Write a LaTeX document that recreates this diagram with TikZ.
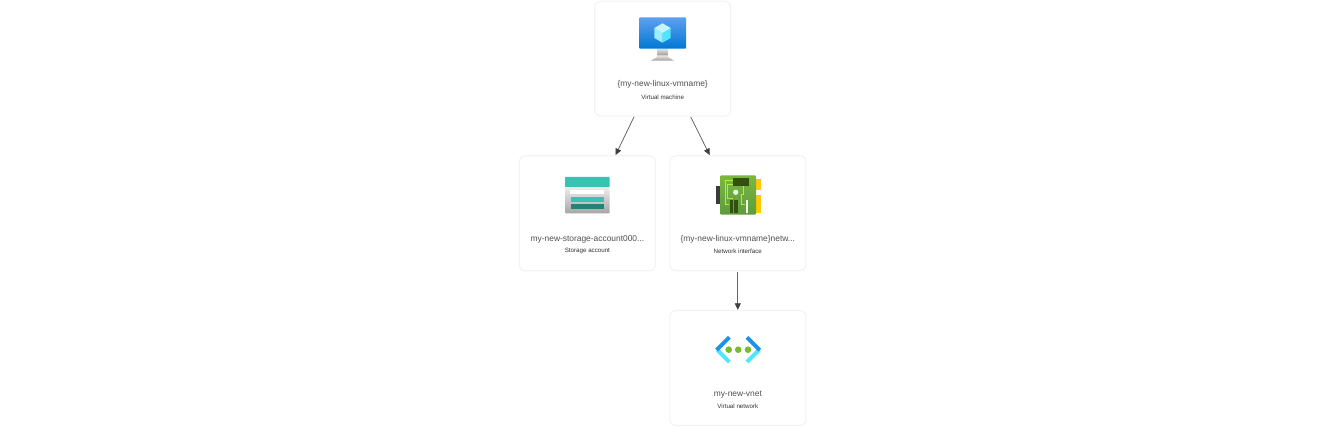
\documentclass[tikz,border=0pt]{standalone}
\usepackage{fontspec}
\setmainfont{Liberation Sans}
\usetikzlibrary{calc,arrows.meta}
\definecolor{cardline}{HTML}{F3F3F3}
\definecolor{nametext}{HTML}{505050}
\definecolor{subtext}{HTML}{333333}
\definecolor{edgeline}{HTML}{666666}
\definecolor{darkarrow}{HTML}{404040}
\tikzset{
  card/.style={draw=cardline,line width=1.1pt,rounded corners=6pt,fill=white,inner sep=0pt,minimum width=136pt,minimum height=115pt},
  nametxt/.style={font=\fontsize{8.4}{10}\selectfont,text=nametext,inner sep=0pt,anchor=center},
  subtxt/.style={font=\fontsize{6.2}{7}\selectfont,text=subtext,inner sep=0pt,anchor=center},
  link/.style={draw=edgeline,line width=0.8pt,-{Triangle[length=6.5pt,width=6pt,color=darkarrow]}}
}
\begin{document}
\begin{tikzpicture}[x=1pt,y=-1pt]
\useasboundingbox (0,0) rectangle (1326,427);
\node[card] (vm) at (662.7,58.7) {};
\node[card] (sa) at (587.4,213.3) {};
\node[card] (nic) at (737.8,213.3) {};
\node[card] (vnet) at (737.8,368) {};
\draw[link] ($(vm.south west)!0.29!(vm.south east)+(0,0.3)$) -- ($(sa.north west)!0.705!(sa.north east)+(0,-0.1)$);
\draw[link] ($(vm.south west)!0.705!(vm.south east)+(0,0.3)$) -- ($(nic.north west)!0.295!(nic.north east)+(0,-0.1)$);
\draw[link] ($(nic.south)+(0,1)$) -- ($(vnet.north)+(0,-0.1)$);
% VM icon
\shade[top color=black!10,bottom color=black!42] (657.7,48.7) rectangle (667.7,56);
\shade[top color=black!10,bottom color=black!38] (657.7,55.5) -- (667.7,55.5) .. controls (668,58) and (672,59) .. (674,60.7) -- (650.7,60.7) .. controls (653,59) and (657,58) .. (657.7,55.5) -- cycle;
\shade[top color={rgb,255:red,94;green,160;blue,239},bottom color={rgb,255:red,0;green,120;blue,212},rounded corners=0.8pt] (639.3,17.3) rectangle (686,48.7);
\fill[color={rgb,255:red,80;green,230;blue,255}] (662.5,33) -- (670.6,28) -- (670.6,38) -- (662.5,42.7) -- cycle;
\fill[color={rgb,255:red,155;green,238;blue,255}] (662.5,33) -- (654.4,28) -- (654.4,38) -- (662.5,42.7) -- cycle;
\fill[color={rgb,255:red,195;green,244;blue,255}] (662.5,23.3) -- (670.6,28) -- (662.5,33) -- (654.4,28) -- cycle;
\node[nametxt] (vmname) at (662.7,84.4) {\{my-new-linux-vmname\}};
\node[subtxt] (vmsub) at (662.7,97) {Virtual machine};
% Storage icon
\shade[top color=black!6,bottom color=black!35,rounded corners=0.8pt] (565,186) rectangle (609.5,213.3);
\fill[color={rgb,255:red,55;green,194;blue,177},rounded corners=0.5pt] (565,177) rectangle (609.5,187);
\fill[white] (570,190) rectangle (604,194.5);
\fill[color={rgb,255:red,55;green,194;blue,177}] (570.5,197) rectangle (604,202);
\fill[color={rgb,255:red,37;green,130;blue,119}] (570.5,204.5) rectangle (604,209.5);
\node[nametxt] (saname) at (587.4,239.4) {my-new-storage-account000...};
\node[subtxt] (sasub) at (587.4,251) {Storage account};
% NIC icon
\fill[color={rgb,255:red,59;green,59;blue,59}] (716,186) rectangle (720.5,204);
\fill[color={rgb,255:red,255;green,202;blue,0}] (755,179) rectangle (760.5,190);
\fill[color={rgb,255:red,255;green,202;blue,0}] (755,195) rectangle (760.5,213);
\shade[top color={rgb,255:red,122;green,184;blue,64},bottom color={rgb,255:red,94;green,155;blue,60},rounded corners=1pt] (720.3,175.3) rectangle (756,214.7);
\draw[color={rgb,255:red,180;green,236;blue,54},line width=0.7pt] (733,180) -- (725,180) -- (725,204) -- (729,204);
\draw[color={rgb,255:red,180;green,236;blue,54},line width=0.7pt] (733,184) -- (727.5,184) -- (727.5,198) -- (733,198);
\draw[color={rgb,255:red,180;green,236;blue,54},line width=0.7pt] (743,186) -- (743,194) -- (741,194) -- (741,204) -- (745,204);
\fill[color={rgb,255:red,50;green,80;blue,15}] (733,178) rectangle (749,186);
\fill[color={rgb,255:red,50;green,80;blue,15}] (730,200) rectangle (733.3,212.7);
\fill[color={rgb,255:red,50;green,80;blue,15}] (734.2,200) rectangle (737.7,212.7);
\fill[color=white!92!green] (745.7,200) rectangle (748.3,213);
\fill[color=white!92!green] (735.7,192.3) circle[radius=2.6];
\node[nametxt] (nicname) at (737.8,239.4) {\{my-new-linux-vmname\}netw...};
\node[subtxt] (nicsub) at (737.8,251) {Network interface};
% VNet icon
\draw[color={rgb,255:red,80;green,230;blue,255},line width=3.9pt] (717.2,349.8) -- (729.4,362);
\draw[color={rgb,255:red,80;green,230;blue,255},line width=3.9pt] (759.2,349.8) -- (747,362);
\draw[color={rgb,255:red,27;green,147;blue,235},line width=3.9pt] (729.4,337.3) -- (716.6,350.1);
\draw[color={rgb,255:red,27;green,147;blue,235},line width=3.9pt] (747,337.3) -- (759.8,350.1);
\fill[color={rgb,255:red,118;green,188;blue,45}] (728.7,349.7) circle[radius=3.3];
\fill[color={rgb,255:red,118;green,188;blue,45}] (738.2,349.7) circle[radius=3.3];
\fill[color={rgb,255:red,118;green,188;blue,45}] (748,349.7) circle[radius=3.3];
\node[nametxt] (vnetname) at (737.8,394.4) {my-new-vnet};
\node[subtxt] (vnetsub) at (737.8,406) {Virtual network};
\end{tikzpicture}
\end{document}
